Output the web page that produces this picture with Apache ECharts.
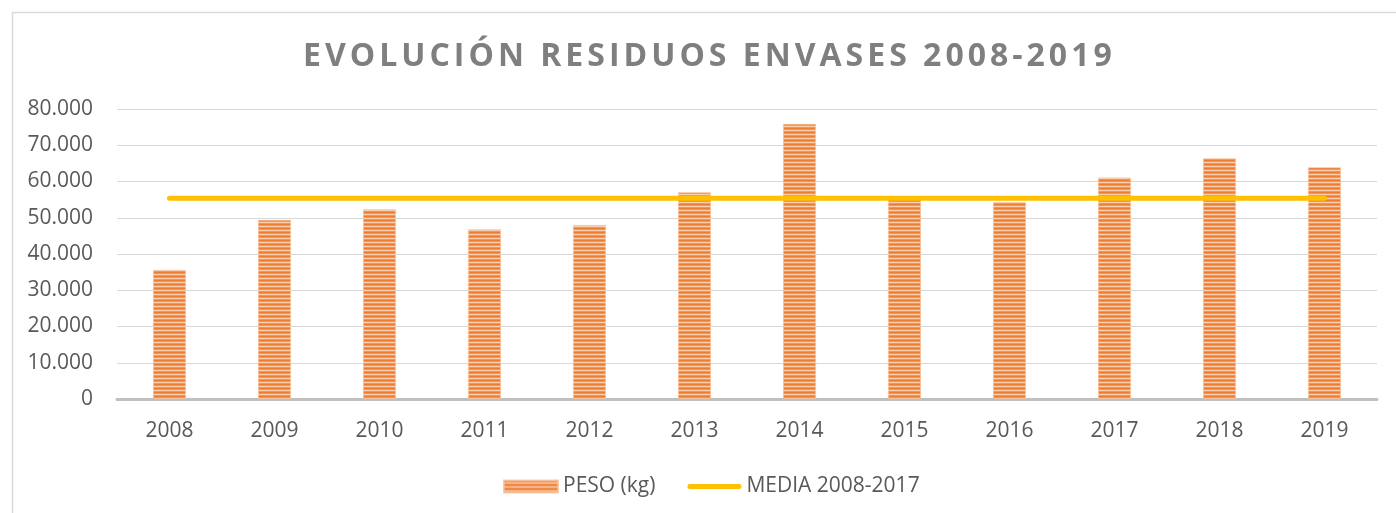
<!DOCTYPE html>
<html>
<head>
<meta charset="utf-8">
<script src="https://cdn.jsdelivr.net/npm/echarts@6/dist/echarts.min.js"></script>
<style>
html,body{margin:0;padding:0;background:#fff;}
#chart{width:1396px;height:513px;}
</style>
</head>
<body>
<div id="chart"></div>
<script>
const titleText = 'EVOLUCIÓN RESIDUOS ENVASES 2008-2019';
const categories = ['2008','2009','2010','2011','2012','2013','2014','2015','2016','2017','2018','2019'];
const pesoValues = [35600, 49400, 52300, 46800, 48000, 57000, 75900, 55600, 54300, 61100, 66400, 63900];
const mediaValue = 55400;
const mediaValues = categories.map(() => mediaValue);
const seriesNames = ['PESO (kg)', 'MEDIA 2008-2017'];

// letter spacing for the title text
const origFill = CanvasRenderingContext2D.prototype.fillText;
CanvasRenderingContext2D.prototype.fillText = function(t, x, y, m) {
  if (typeof t === 'string' && t === titleText && 'letterSpacing' in this) {
    const prev = this.letterSpacing;
    this.letterSpacing = '4px';
    const r = m === undefined ? origFill.call(this, t, x, y) : origFill.call(this, t, x, y, m);
    this.letterSpacing = prev;
    return r;
  }
  return m === undefined ? origFill.call(this, t, x, y) : origFill.call(this, t, x, y, m);
};

function stripePattern() {
  const c = document.createElement('canvas');
  c.width = 4; c.height = 4;
  const ctx = c.getContext('2d');
  const rows = ['#ED7D31', '#F1965A', '#FAD0B0', '#F1965A'];
  rows.forEach((col, i) => { ctx.fillStyle = col; ctx.fillRect(0, i, 4, 1); });
  return c;
}
const pattern = { image: stripePattern(), repeat: 'repeat' };

const fontFam = '"Open Sans", "Liberation Sans", sans-serif';
const chart = echarts.init(document.getElementById('chart'), null, { renderer: 'canvas' });
chart.setOption({
  backgroundColor: '#ffffff',
  animation: false,
  graphic: [{
    type: 'rect', left: 10, top: 10, silent: true, z: -10,
    shape: { width: 1400, height: 520 },
    style: { fill: 'none', stroke: '#D9D9D9', lineWidth: 1.5 }
  }],
  title: {
    text: titleText,
    left: 298,
    top: 36,
    textStyle: { fontFamily: fontFam, fontWeight: 'bold', fontSize: 32, color: '#7F7F7F' }
  },
  grid: { left: 117, right: 19, top: 109, bottom: 114, containLabel: false },
  legend: {
    bottom: 11,
    left: 498,
    itemWidth: 54,
    itemHeight: 12,
    itemGap: 32,
    textStyle: { fontFamily: fontFam, fontSize: 21, color: '#595959' },
    data: [
      { name: seriesNames[0], icon: 'rect' },
      { name: seriesNames[1], icon: 'path://M2.5,0 H51.5 A2.5,2.5 0 0 1 51.5,5 H2.5 A2.5,2.5 0 0 1 2.5,0 Z', itemStyle: { color: '#FFC000' } }
    ]
  },
  xAxis: {
    type: 'category',
    data: categories,
    axisLine: { lineStyle: { color: '#BFBFBF', width: 3 } },
    axisTick: { show: false },
    axisLabel: { fontFamily: fontFam, fontSize: 21, color: '#595959', margin: 22 }
  },
  yAxis: {
    type: 'value',
    min: 0, max: 80000, interval: 10000,
    axisLine: { show: false },
    axisTick: { show: false },
    splitLine: { lineStyle: { color: '#D9D9D9', width: 1 } },
    axisLabel: {
      fontFamily: fontFam, fontSize: 21, color: '#595959', margin: 24,
      formatter: v => v === 0 ? '0' : v.toLocaleString('de-DE')
    }
  },
  series: [
    {
      name: seriesNames[0],
      type: 'bar',
      data: pesoValues,
      barWidth: 33,
      itemStyle: { color: pattern, borderColor: 'rgba(248,190,150,0.8)', borderWidth: 0.8 }
    },
    {
      name: seriesNames[1],
      type: 'line',
      data: mediaValues,
      symbol: 'none',
      lineStyle: { color: '#FFC000', width: 5, cap: 'round' },
      itemStyle: { color: '#FFC000' },
      z: 3
    }
  ]
});
</script>
</body>
</html>
